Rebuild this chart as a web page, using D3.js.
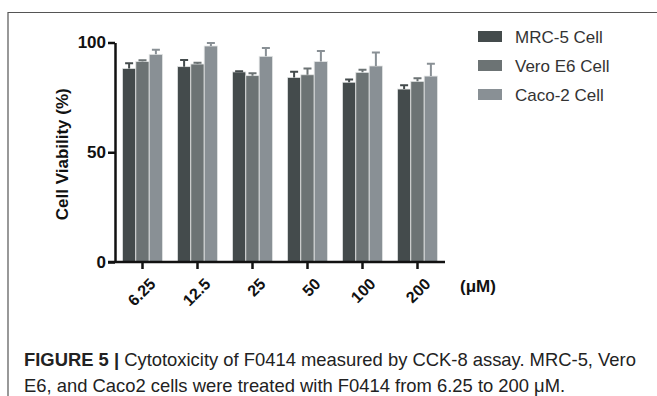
<!DOCTYPE html>
<html>
<head>
<meta charset="utf-8">
<script src="https://cdn.jsdelivr.net/npm/d3@7"></script>
<style>
  body { margin: 0; background: #fff; }
  svg { display: block; }
</style>
</head>
<body>
<svg id="chart" width="657" height="396"></svg>
<script>
const concentrations = ["6.25", "12.5", "25", "50", "100", "200"];
const seriesNames = ["MRC-5 Cell", "Vero E6 Cell", "Caco-2 Cell"];
const mrc5 = [88.2, 89.0, 86.6, 84.1, 81.9, 78.8];
const veroE6 = [91.3, 90.2, 84.9, 85.3, 86.4, 82.3];
const caco2 = [94.6, 98.4, 93.7, 91.3, 89.3, 84.7];
const mrc5Err = [2.3, 3.0, 0.3, 2.6, 1.3, 1.7];
const veroE6Err = [0.6, 0.6, 1.1, 2.8, 1.2, 1.4];
const caco2Err = [2.1, 1.4, 3.8, 4.8, 6.1, 5.6];
const yTicks = [0, 50, 100];
const colors = ["#444b4c", "#6c7374", "#899095"];

const svg = d3.select("#chart");
svg.append("rect").attr("width", 657).attr("height", 396).attr("fill", "#fff");

// frame lines (top + left)
svg.append("path")
  .attr("d", "M8,396V12.5H657")
  .attr("fill", "none")
  .attr("stroke", "#555")
  .attr("stroke-width", 1.2);

const margins = { left: 115, right: 212, top: 42.5, bottom: 134 };
const width = 657 - margins.left - margins.right;
const height = 396 - margins.top - margins.bottom;

const values = [mrc5, veroE6, caco2];
const errs = [mrc5Err, veroE6Err, caco2Err];
const data = concentrations.map((c, i) => ({
  conc: c,
  bars: seriesNames.map((s, j) => ({ key: j, v: values[j][i], e: errs[j][i] }))
}));

const x0 = d3.scaleBand().domain(concentrations).range([0, width]).paddingInner(0.27).paddingOuter(0.135);
const x1 = d3.scaleBand().domain([0, 1, 2]).range([0, x0.bandwidth()]);
const y = d3.scaleLinear().domain([0, 100]).range([height, 0]);

const g = svg.append("g").attr("transform", `translate(${margins.left}, ${margins.top})`);

// bars
const groups = g.selectAll(".grp").data(data).join("g")
  .attr("class", "grp")
  .attr("transform", (d) => `translate(${x0(d.conc)},0)`);

groups.selectAll("rect").data((d) => d.bars).join("rect")
  .attr("x", (d) => x1(d.key))
  .attr("y", (d) => y(d.v))
  .attr("width", x1.bandwidth())
  .attr("height", (d) => y(0) - y(d.v))
  .attr("fill", (d) => colors[d.key])
  .attr("stroke", "#e4e6e6")
  .attr("stroke-width", 0.8);

// error bars (upper only)
groups.selectAll(".err").data((d) => d.bars).join("path")
  .attr("class", "err")
  .attr("d", (d) => {
    const cx = x1(d.key) + x1.bandwidth() / 2;
    const top = y(d.v + d.e);
    return `M${cx},${y(d.v)}V${top}M${cx - 4},${top}H${cx + 4}`;
  })
  .attr("fill", "none")
  .attr("stroke", (d) => colors[d.key])
  .attr("stroke-width", 2);

// y axis
const yAxis = g.append("g")
  .call(d3.axisLeft(y).tickValues(yTicks).tickSize(7).tickSizeOuter(0).tickPadding(2));
yAxis.select(".domain").attr("stroke", "#111").attr("stroke-width", 2.5);
yAxis.selectAll(".tick line").attr("stroke", "#111").attr("stroke-width", 2.5);
yAxis.selectAll(".tick text")
  .attr("font-family", "Liberation Sans, Arial, sans-serif")
  .attr("font-size", 17).attr("font-weight", "bold").attr("fill", "#111");

// x axis
const xAxis = g.append("g")
  .attr("transform", `translate(0, ${height})`)
  .call(d3.axisBottom(x0).tickSize(7).tickSizeOuter(0));
xAxis.select(".domain").attr("stroke", "#111").attr("stroke-width", 2.5)
  .attr("d", `M-7,0H${width}`);
xAxis.selectAll(".tick line").attr("stroke", "#111").attr("stroke-width", 2.5);
xAxis.selectAll(".tick text")
  .attr("font-family", "Liberation Sans, Arial, sans-serif")
  .attr("font-size", 16).attr("font-weight", "bold").attr("fill", "#111")
  .attr("text-anchor", "end")
  .attr("dy", null)
  .attr("y", 0)
  .attr("transform", "translate(14, 23) rotate(-45)");

// unit label
g.append("text")
  .attr("x", 345).attr("y", height + 30)
  .attr("font-family", "Liberation Sans, Arial, sans-serif")
  .attr("font-size", 17).attr("font-weight", "bold").attr("fill", "#111")
  .text("(μM)");

// y label
svg.append("text")
  .attr("transform", `translate(68, ${margins.top + height / 2 + 2}) rotate(-90)`)
  .attr("text-anchor", "middle")
  .attr("font-family", "Liberation Sans, Arial, sans-serif")
  .attr("font-size", 17).attr("font-weight", "bold").attr("fill", "#111")
  .text("Cell Viability (%)");

// legend
const legend = svg.append("g").attr("transform", "translate(478, 31)");
seriesNames.forEach((s, i) => {
  const row = legend.append("g").attr("transform", `translate(0, ${i * 29})`);
  row.append("rect").attr("width", 24).attr("height", 11).attr("fill", colors[i]);
  row.append("text")
    .attr("x", 37).attr("y", 11.5)
    .attr("font-family", "Liberation Sans, Arial, sans-serif")
    .attr("font-size", 17).attr("fill", "#333")
    .text(s);
});

// caption
const cap = svg.append("text")
  .attr("font-family", "Liberation Sans, Arial, sans-serif")
  .attr("font-size", 18.4).attr("fill", "#222");
const l1 = cap.append("tspan").attr("x", 24).attr("y", 366);
l1.append("tspan").attr("font-weight", "bold").text("FIGURE 5 | ");
l1.append("tspan").text("Cytotoxicity of F0414 measured by CCK-8 assay. MRC-5, Vero");
cap.append("tspan").attr("x", 24).attr("y", 392)
  .text("E6, and Caco2 cells were treated with F0414 from 6.25 to 200 μM.");
</script>
</body>
</html>
